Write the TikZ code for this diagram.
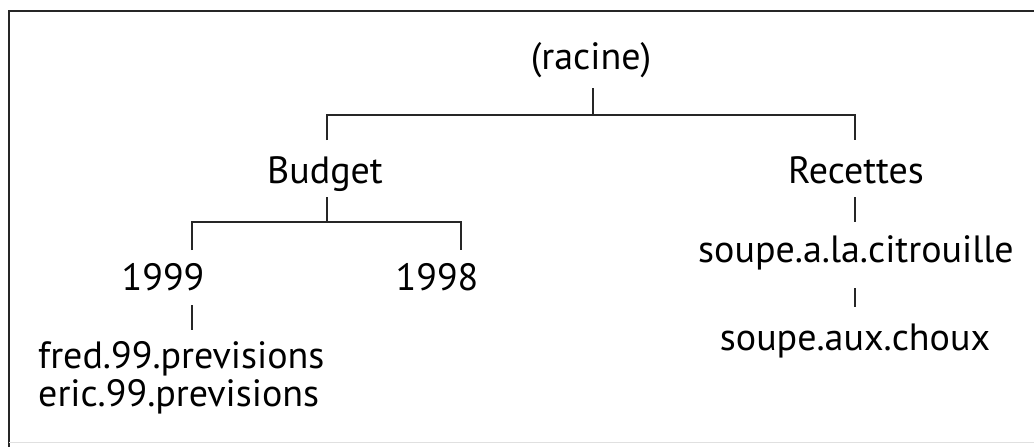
\documentclass[tikz,border=0pt]{standalone}
\usepackage{fontspec}
\setmainfont{PT Sans}
\usetikzlibrary{calc}
\begin{document}
\begin{tikzpicture}[x=1pt,y=-1pt,
  lbl/.style={inner sep=0pt,anchor=base,font=\fontsize{38}{38}\selectfont},
  tree/.style={line width=1.6pt,black!85},
  frame/.style={line width=2pt,black!85}]
\useasboundingbox (0,0) rectangle (1034,447);
% frame (cut off on right and bottom)
\draw[frame] (9,447) -- (9,11) -- (1034,11);
\draw[line width=1pt,black!12] (9,442) -- (1034,442);
% nodes
\node[lbl] (racine) at (591,69) {(racine)};
\node[lbl] (budget) at (325,183) {Budget};
\node[lbl] (recettes) at (856,183) {Recettes};
\node[lbl] (y99) at (163,290) {1999};
\node[lbl] (y98) at (437,290) {1998};
\node[lbl,anchor=base west] (fred) at (38,368) {fred.99.previsions};
\node[lbl,anchor=base west] (eric) at (38,406) {eric.99.previsions};
\node[lbl] (citr) at (856,262) {soupe.a.la.citrouille};
\node[lbl] (choux) at (855,350) {soupe.aux.choux};
% connectors
\draw[tree] ($(racine.base)+(2,19)$) -- ++(0,27) coordinate (j0);
\draw[tree] ($(budget.base)+(2,-43)$) |- (j0) -| ($(recettes.base)+(-1,-43)$);
\draw[tree] ($(budget.base)+(2,14)$) -- ++(0,25) coordinate (j1);
\draw[tree] ($(y99.base)+(29,-40)$) |- (j1) -| ($(y98.base)+(24,-40)$);
\draw[tree] ($(y99.base)+(29,15)$) -- ($(fred.base west)+(154,-38)$);
\draw[tree] ($(recettes.base)+(-1,14)$) -- ($(citr.base)+(-1,-40)$);
\draw[tree] ($(citr.base)+(-1,26)$) -- ($(choux.base)+(0,-43)$);
\end{tikzpicture}
\end{document}
